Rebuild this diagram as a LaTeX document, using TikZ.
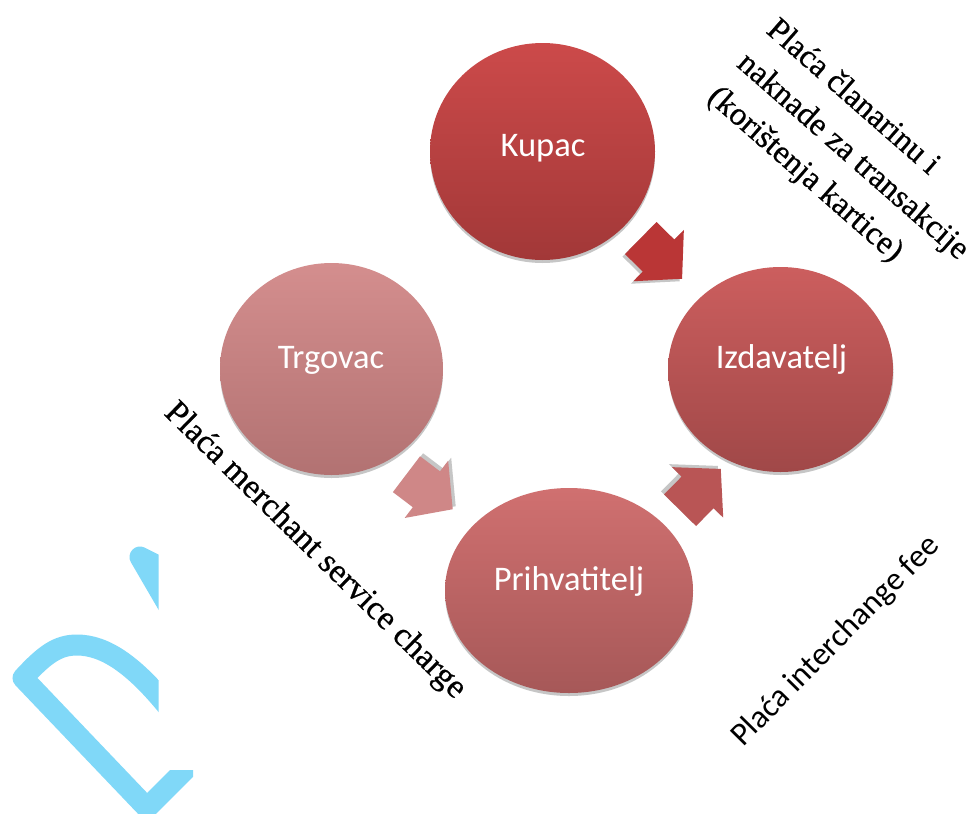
\documentclass[tikz,border=0pt]{standalone}
\usepackage{fontspec}
\setmainfont{Liberation Serif}
\newfontfamily\timesf[FakeBold=0.6]{Liberation Serif}
\newfontfamily\calib{Carlito}
\usetikzlibrary{calc,shapes.geometric}
\definecolor{logoblue}{RGB}{128,216,248}
\definecolor{kupT}{RGB}{204,74,74}
\definecolor{kupB}{RGB}{162,56,56}
\definecolor{izdT}{RGB}{204,94,94}
\definecolor{izdB}{RGB}{160,72,72}
\definecolor{trgT}{RGB}{212,142,142}
\definecolor{trgB}{RGB}{178,114,114}
\definecolor{priT}{RGB}{208,112,112}
\definecolor{priB}{RGB}{166,88,88}
\definecolor{arrA}{RGB}{186,54,54}
\definecolor{arrB}{RGB}{207,135,135}
\definecolor{arrC}{RGB}{185,85,85}
\definecolor{shad}{RGB}{198,198,198}
\tikzset{
  barrow/.pic={\path[pic actions] (-27,-22.5) -- (-2,-22.5) -- (-2,-36) -- (31,0) -- (-2,36) -- (-2,22.5) -- (-27,22.5) -- cycle;},
  logo/.style={draw=logoblue, line width=21pt, line join=round, line cap=round},
  circ/.style={ellipse, inner sep=0pt, draw=none},
  circshadow/.style={circ, fill=shad},
  lbl/.style={font=\calib\fontsize{34.5}{41}\selectfont, text=white, inner sep=0pt, anchor=base},
  sertxt/.style={font=\timesf\fontsize{32.7}{40}\selectfont, text=black, inner sep=0pt, anchor=base west}
}
\begin{document}
\begin{tikzpicture}[x=1pt,y=-1pt]
\fill[white] (0,0) rectangle (972,814);
\useasboundingbox (0,0) rectangle (972,814);

% partial light-blue logo
\begin{scope}
  \clip (0,530) -- (158.5,530) -- (158.5,770) -- (193,770) -- (193,814) -- (0,814) -- cycle;
  \draw[logo] (180,577) -- (140,557) -- (172,612);
  \draw[logo] (172,712) .. controls (135,665) and (105,645) .. (77,645)
              .. controls (58,645) and (45,654) .. (23,678) -- (147,808) -- (205,750);
\end{scope}

% circles
\node[circshadow, minimum width=225pt, minimum height=217pt] (kupacS) at (542.5,154.5) {};
\node[circ, minimum width=225pt, minimum height=217pt, top color=kupT, bottom color=kupB] (kupac) at (542.5,151.5) {};
\node[circshadow, minimum width=225pt, minimum height=205pt] (izdS) at (781,372.5) {};
\node[circ, minimum width=225pt, minimum height=205pt, top color=izdT, bottom color=izdB] (izd) at (780.5,369.5) {};
\node[circshadow, minimum width=223pt, minimum height=212pt] (trgS) at (331.5,372) {};
\node[circ, minimum width=223pt, minimum height=212pt, top color=trgT, bottom color=trgB] (trg) at (331.5,369) {};
\node[circshadow, minimum width=248pt, minimum height=205pt] (priS) at (569,593.5) {};
\node[circ, minimum width=248pt, minimum height=205pt, top color=priT, bottom color=priB] (pri) at (569,590.5) {};

\node[lbl] (kupacT) at ($(kupac)+(0.5,5.2)$) {Kupac};
\node[lbl] (izdT) at ($(izd)+(1,-1.2)$) {Izdavatelj};
\node[lbl] (trgT) at ($(trg)+(-0.5,-0.7)$) {Trgovac};
\node[lbl] (priT) at ($(pri)+(0,-0.5)$) {Prihvatitelj};

% block arrows
\pic[fill=shad, rotate=-44.6] at (657.5,259.5) {barrow};
\pic[fill=arrA, rotate=-44.6] (a1) at (660,257) {barrow};
\pic[fill=shad, rotate=-37.2] at (431,487.5) {barrow};
\pic[fill=arrB, rotate=-37.2] (a2) at (428,490.5) {barrow};
\pic[fill=shad, rotate=45.4] at (696,488) {barrow};
\pic[fill=arrC, rotate=45.4] (a3) at (699,491) {barrow};

% rotated labels
\begin{scope}[shift={(765,32)}, rotate=-41.2, transform shape]
  \node[sertxt] (t1a) at (0,0) {Plaća članarinu i};
  \node[sertxt] (t1b) at (0,44.7) {naknade za transakcije};
  \node[sertxt] (t1c) at (0,89.4) {(korištenja kartice)};
\end{scope}
\node[sertxt, font=\timesf\fontsize{33.7}{40}\selectfont, rotate=-44.4] (t2) at (163,414) {Plaća merchant service charge};
\node[sertxt, font=\calib\fontsize{32.5}{40}\selectfont, rotate=45.4] (t3) at (743,748) {Plaća interchange fee};
\end{tikzpicture}
\end{document}
